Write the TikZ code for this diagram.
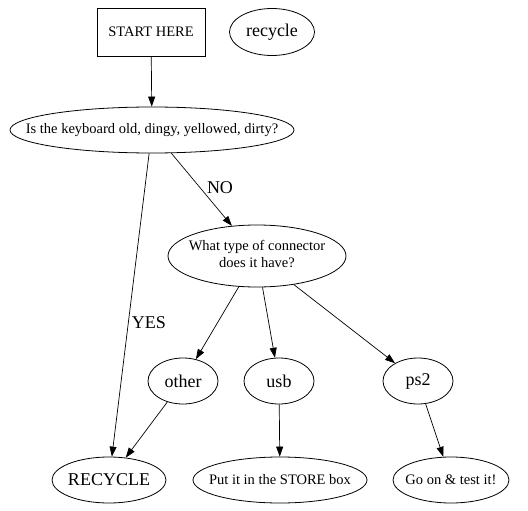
\documentclass[tikz,border=0pt]{standalone}
\usepackage{fontspec}
\setmainfont{Liberation Serif}
\usetikzlibrary{shapes.geometric,arrows.meta}
\newcommand{\zw}[1]{\makebox[0pt]{#1}}
\begin{document}
\begin{tikzpicture}[x=1pt,y=-1pt,
  every node/.style={inner sep=0pt,line width=0.8pt},
  small/.style={font=\fontsize{14.5}{17}\selectfont},
  big/.style={font=\fontsize{18}{20}\selectfont},
  oval/.style={draw,ellipse},
  arr/.style={line width=0.7pt,-{Triangle[length=10pt,width=7pt]}},
  lbl/.style={big}]
\useasboundingbox (0,0) rectangle (528,511);
\node[draw,rectangle,small,minimum width=108pt,minimum height=48pt] (start) at (151,32) {START HERE};
\node[oval,big,minimum width=85pt,minimum height=47pt] (rc) at (272,32) {\zw{recycle}};
\node[oval,small,minimum width=284pt,minimum height=46pt] (q1) at (152,130) {\zw{Is the keyboard old, dingy, yellowed, dirty?}};
\node[oval,small,minimum width=178pt,minimum height=62pt] (q2) at (257,256) {\zw{\begin{tabular}{@{}c@{}}What type of connector\\does it have?\end{tabular}}};
\node[oval,big,minimum width=70pt,minimum height=46pt] (other) at (183,381) {\zw{other}};
\node[oval,big,minimum width=70pt,minimum height=46pt] (usb) at (279,381) {\zw{usb}};
\node[oval,big,minimum width=70pt,minimum height=46pt] (ps2) at (418,381) {\zw{ps2}};
\node[oval,big,minimum width=114pt,minimum height=46pt] (rec) at (109,480) {\zw{RECYCLE}};
\node[oval,small,minimum width=174pt,minimum height=46pt] (store) at (280,480) {\zw{Put it in the STORE box}};
\node[oval,small,minimum width=116pt,minimum height=46pt] (go) at (451,480) {\zw{Go on \& test it!}};
\draw[arr] (start) -- (q1);
\draw[arr] (q1) -- (rec);
\draw[arr] (q1) -- (q2);
\draw[arr] (q2) -- (other);
\draw[arr] (q2) -- (usb);
\draw[arr] (q2) -- (ps2);
\draw[arr] (other) -- (rec);
\draw[arr] (usb) -- (store);
\draw[arr] (ps2) -- (go);
\node[lbl] (yes) at (149,323) {YES};
\node[lbl] (no) at (220,188) {NO};
\end{tikzpicture}
\end{document}
